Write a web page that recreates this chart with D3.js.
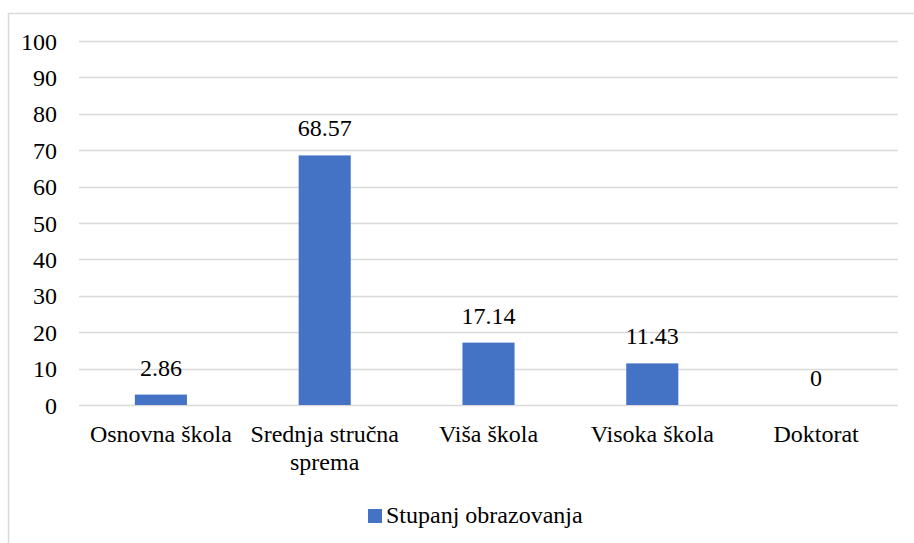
<!DOCTYPE html>
<html>
<head>
<meta charset="utf-8">
<script src="https://cdn.jsdelivr.net/npm/d3@7"></script>
<style>
  body { margin: 0; background: #fff; }
</style>
</head>
<body>
<div id="chart"></div>
<script>
const categories = ["Osnovna škola", "Srednja stručna sprema", "Viša škola", "Visoka škola", "Doktorat"];
const values = [2.86, 68.57, 17.14, 11.43, 0];
const yTicks = [0, 10, 20, 30, 40, 50, 60, 70, 80, 90, 100];
const seriesName = "Stupanj obrazovanja";

const W = 914, H = 543;
const margin = { left: 79, right: 16, top: 41, bottom: 138 };
const FONT = "'Liberation Serif', Tinos, 'Times New Roman', Times, 'DejaVu Serif', serif";

const svg = d3.select("#chart").append("svg")
  .attr("width", W)
  .attr("height", H)
  .attr("font-family", FONT)
  .style("font-family", FONT);

// chart frame (runs off right and bottom edges)
svg.append("rect")
  .attr("x", 8.5).attr("y", 13.5)
  .attr("width", W).attr("height", H)
  .attr("fill", "none")
  .attr("stroke", "#d9d9d9")
  .attr("stroke-width", 1.5);

const x = d3.scaleBand()
  .domain(categories)
  .range([margin.left, W - margin.right])
  .paddingInner(0.682)
  .paddingOuter(0.341);

const y = d3.scaleLinear()
  .domain([0, 100])
  .range([H - margin.bottom, margin.top]);

// gridlines
svg.append("g")
  .selectAll("line")
  .data(yTicks)
  .enter()
  .append("line")
  .attr("x1", margin.left)
  .attr("x2", W - margin.right)
  .attr("y1", (d) => Math.round(y(d)) + 0.5)
  .attr("y2", (d) => Math.round(y(d)) + 0.5)
  .attr("stroke", "#d9d9d9")
  .attr("stroke-width", 1.3);

// y axis labels
svg.append("g")
  .selectAll("text")
  .data(yTicks)
  .enter()
  .append("text")
  .attr("x", 57)
  .attr("y", (d) => y(d))
  .attr("dy", "0.36em")
  .attr("text-anchor", "end")
  .attr("font-size", 24)
  .text((d) => d);

// bars
svg.append("g")
  .selectAll("rect")
  .data(values)
  .enter()
  .append("rect")
  .attr("x", (d, i) => x(categories[i]))
  .attr("y", (d) => y(d))
  .attr("width", x.bandwidth())
  .attr("height", (d) => y(0) - y(d))
  .attr("fill", "#4472c4");

// value labels
svg.append("g")
  .selectAll("text")
  .data(values)
  .enter()
  .append("text")
  .attr("x", (d, i) => x(categories[i]) + x.bandwidth() / 2)
  .attr("y", (d) => y(d) - 19)
  .attr("text-anchor", "middle")
  .attr("font-size", 24)
  .text((d) => d);

// category labels, wrapped to the slot width
const step = x.step();
const catText = svg.append("g")
  .selectAll("text")
  .data(categories)
  .enter()
  .append("text")
  .attr("text-anchor", "middle")
  .attr("font-size", 24)
  .attr("x", (d) => x(d) + x.bandwidth() / 2)
  .attr("y", y(0) + 37);

catText.each(function (d) {
  const t = d3.select(this);
  const cx = +t.attr("x");
  const words = d.split(" ");
  let line = [];
  let tspan = t.append("tspan").attr("x", cx).attr("dy", 0);
  words.forEach((w) => {
    line.push(w);
    tspan.text(line.join(" "));
    if (tspan.node().getComputedTextLength() > step - 4 && line.length > 1) {
      line.pop();
      tspan.text(line.join(" "));
      line = [w];
      tspan = t.append("tspan").attr("x", cx).attr("dy", 28).text(w);
    }
  });
});

// legend
const legend = svg.append("g").attr("transform", "translate(368, 509)");
legend.append("rect")
  .attr("width", 14)
  .attr("height", 14)
  .attr("fill", "#4472c4");
legend.append("text")
  .attr("x", 18)
  .attr("y", 14)
  .attr("font-size", 24)
  .text(seriesName);
</script>
</body>
</html>
